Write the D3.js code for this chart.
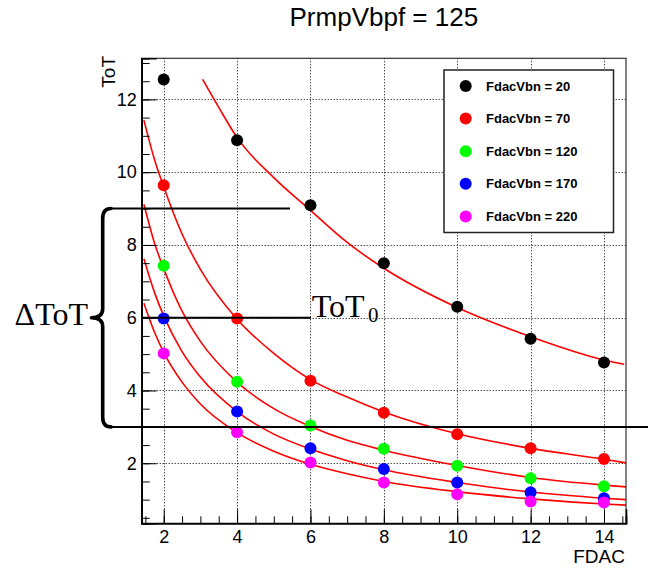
<!DOCTYPE html>
<html>
<head>
<meta charset="utf-8">
<script src="https://cdn.jsdelivr.net/npm/d3@7"></script>
<style>
  html, body { margin: 0; padding: 0; background: #fff; }
  svg { display: block; }
</style>
</head>
<body>
<svg id="chart" width="648" height="570"></svg>
<script>
// ToT versus FDAC for several FdacVbn settings (PrmpVbpf = 125)
const fdac = [2, 4, 6, 8, 10, 12, 14];
const seriesNames = ["FdacVbn = 20", "FdacVbn = 70", "FdacVbn = 120", "FdacVbn = 170", "FdacVbn = 220"];
const seriesColors = ["#000000", "#ff0000", "#00ff00", "#0000ff", "#ff00ff"];

const totVbn20  = [12.55, 10.88, 9.09, 7.50, 6.30, 5.42, 4.77];
const totVbn70  = [9.64, 5.98, 4.27, 3.39, 2.80, 2.41, 2.12];
const totVbn120 = [7.43, 4.24, 3.04, 2.40, 1.93, 1.59, 1.37];
const totVbn170 = [5.98, 3.42, 2.41, 1.84, 1.47, 1.20, 1.04];
const totVbn220 = [5.02, 2.85, 2.02, 1.47, 1.15, 0.95, 0.92];

// fitted curves, sampled along FDAC
const fitX20  = [3.06, 3.5, 4, 5, 6, 7, 8, 10, 12, 14, 14.55];
const fitY20  = [12.55, 11.78, 10.95, 9.85, 8.95, 8.07, 7.36, 6.28, 5.48, 4.84, 4.72];
const fitX    = [1.46, 1.75, 2, 2.5, 3, 4, 5, 6, 7, 8, 10, 12, 14, 14.6];
const fitY70  = [11.43, 10.34, 9.60, 8.30, 7.33, 5.96, 5.02, 4.30, 3.82, 3.41, 2.81, 2.41, 2.11, 2.01];
const fitY120 = [9.12, 8.05, 7.35, 6.18, 5.35, 4.23, 3.50, 3.01, 2.63, 2.36, 1.94, 1.61, 1.40, 1.35];
const fitY170 = [7.62, 6.69, 6.05, 5.07, 4.37, 3.42, 2.80, 2.39, 2.07, 1.82, 1.47, 1.21, 1.04, 1.00];
const fitY220 = [6.40, 5.60, 5.05, 4.23, 3.63, 2.84, 2.33, 1.97, 1.71, 1.50, 1.22, 1.02, 0.88, 0.85];

const xMajor = [2, 4, 6, 8, 10, 12, 14];
const yMajor = [2, 4, 6, 8, 10, 12];
const xDomain = [1.4, 14.6];
const yDomain = [0.35, 13.13];

// annotation levels: upper, reference (ToT0) and lower ToT
const annotLevels = [9, 6, 3];

const seriesValues = [totVbn20, totVbn70, totVbn120, totVbn170, totVbn220];
const fits = [
  fitX20.map((x, i) => [x, fitY20[i]]),
  fitX.map((x, i) => [x, fitY70[i]]),
  fitX.map((x, i) => [x, fitY120[i]]),
  fitX.map((x, i) => [x, fitY170[i]]),
  fitX.map((x, i) => [x, fitY220[i]])
];

const svg = d3.select("#chart");
const frame = { left: 141.7, right: 626, top: 58.3, bottom: 523.3 };
const sans = "'Liberation Sans', Arial, Helvetica, sans-serif";
const serif = "'Liberation Serif', 'Times New Roman', serif";

const x = d3.scaleLinear().domain(xDomain).range([frame.left, frame.right]);
const y = d3.scaleLinear().domain(yDomain).range([frame.bottom, frame.top]);

const halfSteps = (lo, hi) => d3.range(Math.ceil(lo * 2) / 2, hi + 1e-9, 0.5);

// grid
const grid = svg.append("g").attr("stroke", "#000").attr("stroke-width", 1)
  .attr("stroke-dasharray", "1,2").attr("fill", "none");
grid.selectAll(".gx").data(xMajor).join("line")
  .attr("x1", d => Math.round(x(d)) + 0.5).attr("x2", d => Math.round(x(d)) + 0.5)
  .attr("y1", frame.top).attr("y2", frame.bottom);
grid.selectAll(".gy").data(yMajor).join("line")
  .attr("y1", d => Math.round(y(d)) + 0.5).attr("y2", d => Math.round(y(d)) + 0.5)
  .attr("x1", frame.left).attr("x2", frame.right);

// fitted curves
const line = d3.line().x(d => x(d[0])).y(d => y(d[1])).curve(d3.curveMonotoneX);
svg.append("g").selectAll("path").data(fits).join("path")
  .attr("d", line).attr("fill", "none").attr("stroke", "#ff0000").attr("stroke-width", 1.6);

// data points
seriesValues.forEach((vals, s) => {
  svg.append("g").selectAll("circle").data(vals).join("circle")
    .attr("cx", (d, i) => x(fdac[i])).attr("cy", d => y(d)).attr("r", 6)
    .attr("fill", seriesColors[s]);
});

// frame
svg.append("rect").attr("x", frame.left).attr("y", frame.top)
  .attr("width", frame.right - frame.left).attr("height", frame.bottom - frame.top)
  .attr("fill", "none").attr("stroke", "#333").attr("stroke-width", 1.2);

// axes: minor ticks, then major ticks with labels (ticks point inward)
const styleAxis = g => {
  g.selectAll(".domain").attr("stroke", "#000").attr("stroke-width", 1.6);
  g.selectAll(".tick line").attr("stroke", "#000").attr("stroke-width", 1);
  g.selectAll("text").attr("font-family", sans).attr("font-size", 18).attr("fill", "#000");
};
svg.append("g").attr("transform", `translate(0,${frame.bottom})`)
  .call(d3.axisBottom(x).tickValues(halfSteps(xDomain[0], xDomain[1])).tickSize(-7).tickFormat(""))
  .call(styleAxis);
svg.append("g").attr("transform", `translate(0,${frame.bottom})`)
  .call(d3.axisBottom(x).tickValues(xMajor).tickSize(-14).tickPadding(7).tickFormat(d3.format("d")))
  .call(styleAxis);
svg.append("g").attr("transform", `translate(${frame.left},0)`)
  .call(d3.axisLeft(y).tickValues(halfSteps(yDomain[0], yDomain[1])).tickSize(-8).tickFormat(""))
  .call(styleAxis);
svg.append("g").attr("transform", `translate(${frame.left},0)`)
  .call(d3.axisLeft(y).tickValues(yMajor).tickSize(-15).tickPadding(5).tickFormat(d3.format("d")))
  .call(styleAxis);

// axis titles and title
svg.append("text").attr("x", 625).attr("y", 562.5).attr("text-anchor", "end")
  .attr("font-family", sans).attr("font-size", 19).text("FDAC");
svg.append("text").attr("transform", "translate(115,56) rotate(-90)").attr("text-anchor", "end")
  .attr("font-family", sans).attr("font-size", 19).text("ToT");
svg.append("text").attr("x", (frame.left + frame.right) / 2).attr("y", 26).attr("text-anchor", "middle")
  .attr("font-family", sans).attr("font-size", 26).text("PrmpVbpf = 125");

// legend
const legend = svg.append("g");
legend.append("rect").attr("x", 444).attr("y", 70).attr("width", 169.5).attr("height", 162.5)
  .attr("fill", "#fff").attr("stroke", "#222").attr("stroke-width", 1.5);
const entries = legend.selectAll(".entry").data(seriesNames).join("g")
  .attr("transform", (d, i) => `translate(0,${86 + i * 32.6})`);
entries.append("circle").attr("cx", 465.7).attr("cy", 0).attr("r", 6)
  .attr("fill", (d, i) => seriesColors[i]);
entries.append("text").attr("x", 486).attr("y", 0).attr("dy", "0.36em")
  .attr("font-family", sans).attr("font-weight", "bold").attr("font-size", 13).text(d => d);

// ΔToT annotation: bracket between the upper and lower levels, reference line at ToT0
const ann = svg.append("g").attr("stroke", "#000").attr("fill", "none");
const lineSpans = [[110, 290], [142, 311], [110, 648]];
annotLevels.forEach((lv, i) => {
  ann.append("line").attr("x1", lineSpans[i][0]).attr("x2", lineSpans[i][1])
    .attr("y1", y(lv)).attr("y2", y(lv)).attr("stroke-width", 2);
});
const yt = y(annotLevels[0]), yb = y(annotLevels[2]), ym = y(annotLevels[1]);
const xv = 102.7, xtip = 91.5, xe = 111;
ann.append("path")
  .attr("d", `M${xe},${yt} Q${xv},${yt} ${xv},${yt + 10} L${xv},${ym - 9} Q${xv},${ym} ${xtip},${ym}` +
             ` Q${xv},${ym} ${xv},${ym + 9} L${xv},${yb - 10} Q${xv},${yb} ${xe},${yb}`)
  .attr("stroke-width", 3.6).attr("stroke-linecap", "round").attr("stroke-linejoin", "round");

svg.append("text").attr("x", 88).attr("y", 325).attr("text-anchor", "end")
  .attr("font-family", serif).attr("font-size", 32).text("ΔToT");
const tot0 = svg.append("text").attr("x", 311.7).attr("y", 317)
  .attr("font-family", serif).attr("font-size", 32);
tot0.append("tspan").text("ToT");
tot0.append("tspan").attr("x", 368).attr("y", 321.5).attr("font-size", 21).text("0");
</script>
</body>
</html>
